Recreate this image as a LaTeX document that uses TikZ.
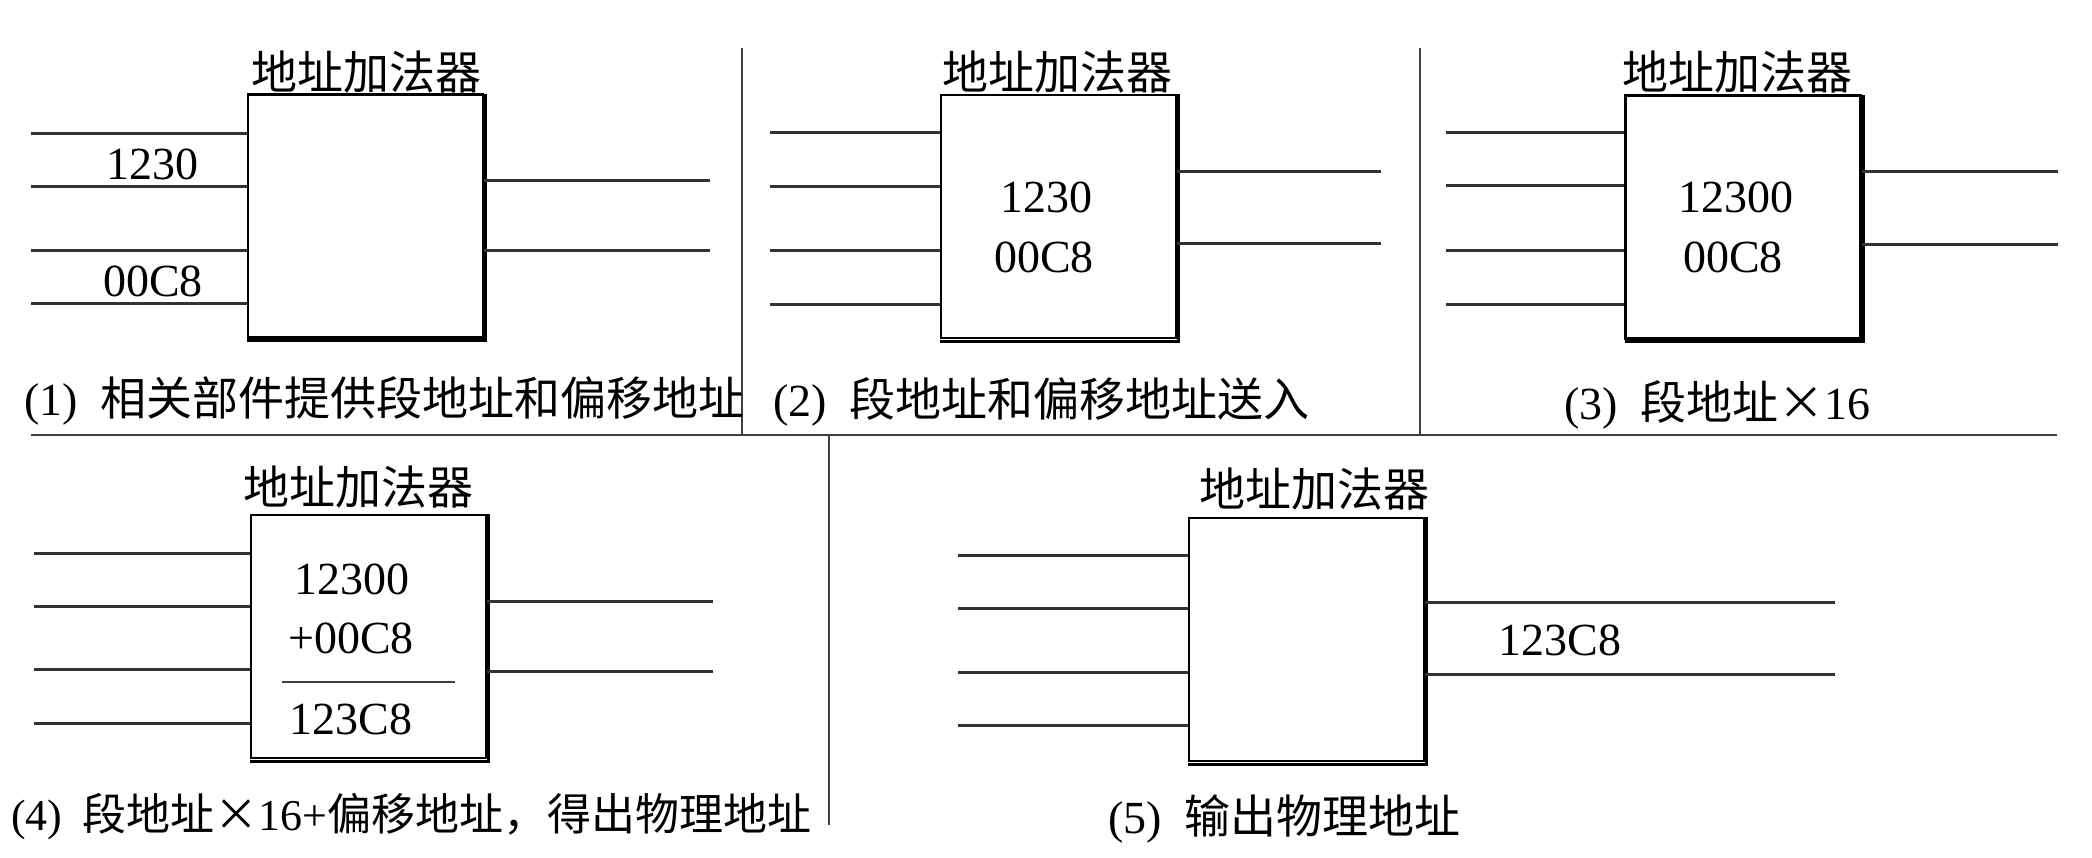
\documentclass[tikz,border=0pt]{standalone}
\usepackage{fontspec}
\setmainfont{Liberation Serif}
\newfontfamily\cjk{Noto Sans CJK SC}
\usetikzlibrary{calc}
\begin{document}
\begin{tikzpicture}[x=1pt,y=-1pt,
  wire/.style={line width=3pt, draw=black!80},
  sepline/.style={line width=2.4pt, draw=black!75},
  adder/.style={draw=black, line width=2.6pt, minimum width=235pt, minimum height=243pt, inner sep=0pt, fill=white},
  shadowline/.style={line width=3pt, draw=black},
  lbl/.style={inner sep=0pt, font=\fontsize{46}{52}\selectfont},
  ttl/.style={inner sep=0pt, font=\fontsize{46}{52}\selectfont\cjk},
  captext/.style={lbl, anchor=west}]
\useasboundingbox (0,0) rectangle (2092,858);

% separators
\draw[sepline] (742,48) -- (742,435);
\draw[sepline] (1420,48) -- (1420,435);
\draw[sepline] (31,435) -- (2057,435);
\draw[sepline] (829,435) -- (829,825);

% boxes
\node[adder] (b1) at (365.5,216) {};
\node[adder] (b2) at (1058.5,216.5) {};
\node[adder] (b3) at (1743,217) {};
\node[adder] (b4) at (368.5,636.5) {};
\node[adder] (b5) at (1306.5,639.5) {};
\foreach \b in {b1,b2,b3,b4,b5}
  \draw[shadowline] ($(\b.south west)+(0.5,1.8)$) -- ($(\b.south east)+(1.2,1.8)$) -- ($(\b.north east)+(1.2,0.5)$);

% titles
\node[ttl] (t1) at (366,72) {地址加法器};
\node[ttl] (t2) at (1057,72) {地址加法器};
\node[ttl] (t3) at (1737,72) {地址加法器};
\node[ttl] (t4) at (358,487) {地址加法器};
\node[ttl] (t5) at (1314,489) {地址加法器};

% wires panel 1
\foreach \yy in {134,187,251,304} {\coordinate (p) at (31,\yy); \draw[wire] (p) -- (p -| b1.west);}
\foreach \yy in {181,251} {\coordinate (p) at (710,\yy); \draw[wire] (p -| b1.east) -- (p);}
% panel 2
\foreach \yy in {133,187,251,305} {\coordinate (p) at (770,\yy); \draw[wire] (p) -- (p -| b2.west);}
\foreach \yy in {172,244} {\coordinate (p) at (1381,\yy); \draw[wire] (p -| b2.east) -- (p);}
% panel 3
\foreach \yy in {133,186,251,305} {\coordinate (p) at (1446,\yy); \draw[wire] (p) -- (p -| b3.west);}
\foreach \yy in {172,245} {\coordinate (p) at (2058,\yy); \draw[wire] (p -| b3.east) -- (p);}
% panel 4
\foreach \yy in {553,606,669,723} {\coordinate (p) at (34,\yy); \draw[wire] (p) -- (p -| b4.west);}
\foreach \yy in {601,671} {\coordinate (p) at (713,\yy); \draw[wire] (p -| b4.east) -- (p);}
% panel 5
\foreach \yy in {555,608,672,725} {\coordinate (p) at (958,\yy); \draw[wire] (p) -- (p -| b5.west);}
\foreach \yy in {602,674} {\coordinate (p) at (1835,\yy); \draw[wire] (p -| b5.east) -- (p);}

% values
\node[lbl] (v11) at (152,164) {1230};
\node[lbl] (v12) at (153,281) {00C8};
\node[lbl] (v21) at (1046,197) {1230};
\node[lbl] (v22) at (1044,257) {00C8};
\node[lbl] (v31) at (1736,197) {12300};
\node[lbl] (v32) at (1733,257) {00C8};
\node[lbl] (v41) at (352,579) {12300};
\node[lbl] (v42) at (351,638) {+00C8};
\coordinate (r1) at (282,682);
\coordinate (r2) at (455,682);
\draw[line width=2.6pt, draw=black!75] (r1) -- (r2);
\node[lbl] (v43) at (351,719) {123C8};
\node[lbl] (v51) at (1560,640) {123C8};

% captions
\node[captext] (c1) at (24,401) {(1)\hspace{0.5em}{\cjk 相关部件提供段地址和偏移地址}};
\node[captext] (c2) at (773,402) {(2)\hspace{0.5em}{\cjk 段地址和偏移地址送入}};
\node[captext] (c3) at (1564,405) {(3)\hspace{0.5em}{\cjk 段地址×}16};
\node[captext, font=\fontsize{44}{50}\selectfont] (c4) at (11,817) {(4)\hspace{0.45em}{\cjk 段地址×}16+{\cjk 偏移地址，得出物理地址}};
\node[captext] (c5) at (1108,819) {(5)\hspace{0.5em}{\cjk 输出物理地址}};
\end{tikzpicture}
\end{document}
